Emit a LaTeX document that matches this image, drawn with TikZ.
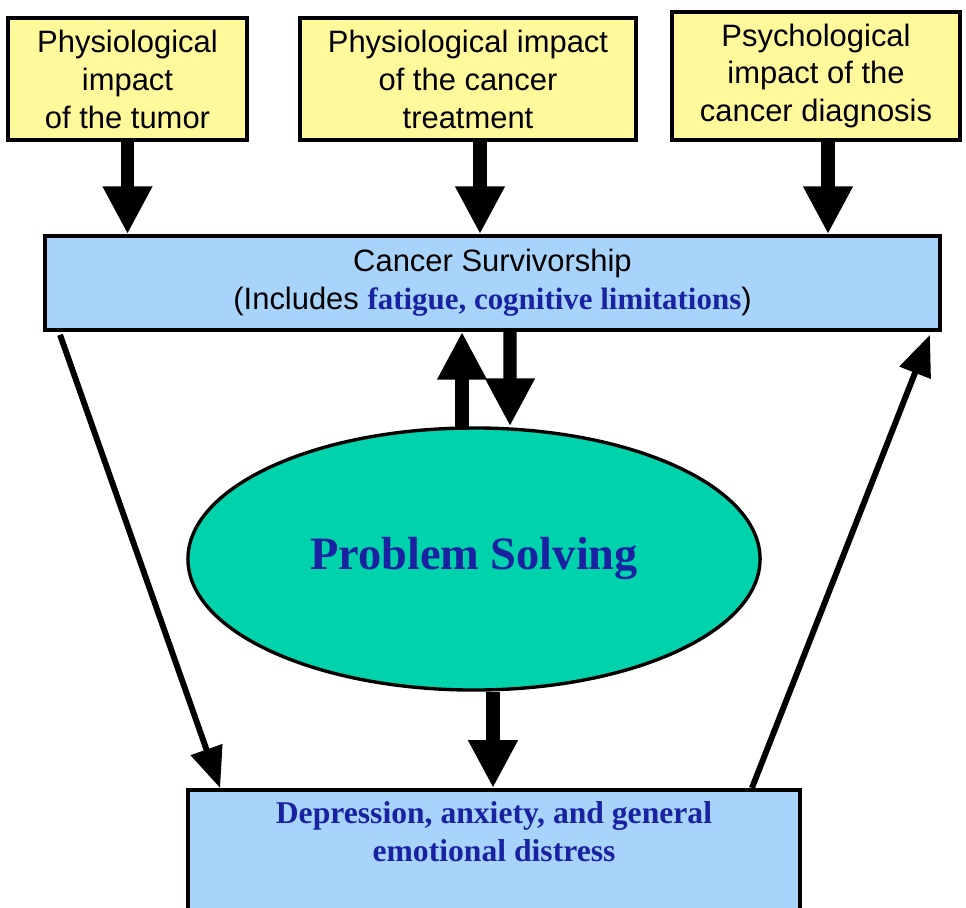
\documentclass[tikz,border=0pt]{standalone}
\usepackage{fontspec}
\setmainfont{Liberation Sans}
\newfontfamily\titleserif{Liberation Serif}
\usepackage{tikz}
\usetikzlibrary{arrows.meta,positioning,shapes.geometric,calc}
\definecolor{impyellow}{HTML}{FFF99C}
\definecolor{survblue}{HTML}{A8D4FC}
\definecolor{solvegreen}{HTML}{00D3AB}
\definecolor{inkblue}{HTML}{1A22A2}
\tikzset{
  impbox/.style={draw, line width=2.6pt, fill=impyellow, align=center, inner sep=0pt, minimum height=3.05cm, font=\fontsize{22}{27}\selectfont},
  survbox/.style={draw, line width=2.6pt, fill=survblue, align=center, inner sep=0pt, minimum width=22.375cm, minimum height=2.35cm, font=\fontsize{22}{27}\selectfont},
  solveell/.style={draw, ellipse, line width=2.4pt, fill=solvegreen, inner sep=0pt, minimum width=14.3cm, minimum height=6.55cm, font=\titleserif\bfseries\fontsize{33}{38}\selectfont, text=inkblue},
  distbox/.style={draw, line width=2.6pt, fill=survblue, align=center, inner xsep=0pt, inner ysep=0.3cm, minimum width=15.3cm, text depth=2.45cm, font=\titleserif\bfseries\fontsize{22.5}{27}\selectfont, text=inkblue},
  barrow/.style={-{Triangle[width=33pt, length=34pt]}, line width=9.5pt},
  tarrow/.style={-{Triangle[width=23pt, length=29pt]}, line width=4.2pt}
}
\begin{document}
\begin{tikzpicture}[x=0.025cm,y=-0.025cm]
\useasboundingbox (0,0) rectangle (966,907);

% top row
\node[impbox, minimum width=5.975cm] (tumor) at (127.5,79) {Physiological\\impact\\of the tumor};
\node[impbox, minimum width=8.4cm] (treat) at (468,79) {Physiological impact\\of the cancer\\treatment};
\node[impbox, minimum width=7.2cm, minimum height=3.2cm] (diag) at (816,76) {Psychological\\impact of the\\cancer diagnosis};

\node[survbox] (surv) at (492.5,283) {Cancer Survivorship\\(Includes {\titleserif\bfseries\color{inkblue}fatigue, cognitive limitations})};

\node[solveell] (solve) at (474,559) {Problem Solving};

\node[distbox, anchor=north] (dist) at (494,788) {Depression, anxiety, and general\\emotional distress};

% arrows
\draw[barrow] (tumor.south) -- (tumor.south |- surv.north);
\draw[barrow] ($(treat.south)+(12,0)$) -- ($(treat.south |- surv.north)+(12,0)$);
\draw[barrow] ($(diag.south)+(12,0)$) -- ($(diag.south |- surv.north)+(12,0)$);

\draw[barrow] ($(solve.north)+(-12,4)$) -- ($(surv.south)+(-30.5,0)$);
\draw[barrow] ($(surv.south)+(17.5,0)$) -- ($(solve.north)+(36,0)$);
\draw[barrow] (solve.south) ++(19,0) coordinate (solvefoot) -- (solvefoot |- dist.north);

\draw[tarrow] ($(surv.south west)+(17,3)$) -- ($(dist.north west)+(34,0)$);
\draw[tarrow] ($(dist.north east)+(-50,0)$) -- ($(surv.south east)+(-12,3)$);
\end{tikzpicture}
\end{document}
